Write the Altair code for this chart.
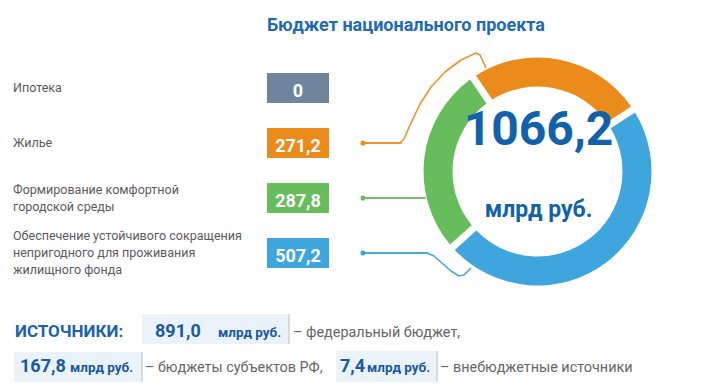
import altair as alt
import pandas as pd

# ---------------- data ----------------
categories = [
    "Ипотека",
    "Жилье",
    "Формирование комфортной\nгородской среды",
    "Обеспечение устойчивого сокращения\nнепригодного для проживания\nжилищного фонда",
]
values = [0.0, 271.2, 287.8, 507.2]
palette = ["#6F859E", "#EA8B1C", "#67BC5C", "#3EA6DC"]
line_palette = ["#6F859E", "#EC9232", "#72C167", "#45A9DE"]
ring_order = [0, 1, 3, 2]  # clockwise order in the ring (0 = not drawn)

title = "Бюджет национального проекта"
unit = "млрд руб."
sources_label = "ИСТОЧНИКИ:"
source_values = [891.0, 167.8, 7.4]
source_desc = ["– федеральный бюджет,", "– бюджеты субъектов РФ,", "– внебюджетные источники"]


def ru(v):
    return f"{v:.1f}".replace(".", ",") if v else "0"


total = sum(values)

# ---------------- layout ----------------
W, H = 723, 385
xs = alt.Scale(domain=[0, W], range=[0, W])
ys = alt.Scale(domain=[0, H], range=[0, H])


def X(f):
    return alt.X(f, type="quantitative", scale=xs, axis=None)


def Y(f):
    return alt.Y(f, type="quantitative", scale=ys, axis=None)


row_y = [88, 143, 198, 253]
LH = 17
cx, cy = 537.5, 171.5

rows = pd.DataFrame({
    "cat": categories,
    "value": values,
    "label": [ru(v) for v in values],
    "color": palette,
    "lcolor": line_palette,
    "ord": ring_order,
    "y": row_y,
    "ylab": [r - (c.count("\n")) * LH / 2 for r, c in zip(row_y, categories)],
    "y0": [r - 15 for r in row_y],
    "y1": [r + 15 for r in row_y],
    "yb": [r + 9 for r in row_y],
    "x0": [267] * 4,
    "x1": [329] * 4,
    "xc": [298] * 4,
    "xl": [13] * 4,
    "xd": [363] * 4,
    "xe": [0, 401, 425, 428],
})

labels = alt.Chart(rows).mark_text(
    align="left", baseline="middle", font="Roboto", fontSize=12.5, color="#5b5b5b",
    lineBreak="\n", lineHeight=LH
).encode(x=X("xl"), y=Y("ylab"), text="cat:N")

boxes = alt.Chart(rows).mark_rect().encode(
    x=X("x0"), x2=alt.X2("x1"), y=Y("y0"), y2=alt.Y2("y1"),
    color=alt.Color("color:N", scale=None)
)

box_text = alt.Chart(rows).mark_text(
    align="center", baseline="alphabetic", font="Roboto", fontSize=18,
    fontWeight="bold", color="white"
).encode(x=X("xc"), y=Y("yb"), text="label:N")

dots = alt.Chart(rows).transform_filter("datum.value > 0").mark_circle(size=26, opacity=1).encode(
    x=X("xd"), y=Y("y"), color=alt.Color("color:N", scale=None)
)

# horizontal leader segments
leaders = alt.Chart(rows).transform_filter("datum.value > 0").mark_rule(
    strokeWidth=1.8, strokeCap="round", opacity=1
).encode(
    x=X("xd"), x2=alt.X2("xe"), y=Y("y"), y2=alt.Y2("y"),
    color=alt.Color("lcolor:N", scale=None)
)

# connector curves (layout)
paths = {
    1: [(400, 143), (404, 139), (411, 123), (420, 104), (431, 87),
        (445, 72), (461, 60), (476, 53), (480, 55), (486, 68)],
    3: [(427, 253), (434, 256), (451, 271), (459, 276), (464, 275), (471, 268)],
}
conn_rows = []
for i, pts in paths.items():
    for k, (px, py) in enumerate(pts):
        conn_rows.append({"series": f"s{i}", "k": k, "px": px, "py": py, "c": line_palette[i]})
conn = pd.DataFrame(conn_rows)

connectors = alt.Chart(conn).mark_line(strokeWidth=1.6, interpolate="linear", strokeJoin="round").encode(
    x=X("px"), y=Y("py"), detail="series:N", order="k:Q",
    color=alt.Color("c:N", scale=None)
)

# ring
ring_df = rows[rows["value"] > 0].copy()
ring_df["cx"] = cx
ring_df["cy"] = cy
start = -0.602
ring = alt.Chart(ring_df).mark_arc(radius=114, radius2=85, padAngle=0.05).encode(
    x=X("cx"), y=Y("cy"),
    theta=alt.Theta("value:Q", stack=True, scale=alt.Scale(range=[start, start + 6.283185307])),
    order=alt.Order("ord:Q"),
    color=alt.Color("color:N", scale=None),
)

center = pd.DataFrame({
    "t": [ru(round(total, 1)), unit],
    "x": [cx + 1, cx + 1],
    "y": [145, 217],
    "s": [48, 23],
})
center_text = alt.Chart(center).mark_text(
    align="center", baseline="alphabetic", font="Roboto", fontWeight="bold", color="#1162A8"
).encode(x=X("x"), y=Y("y"), text="t:N", size=alt.Size("s:Q", scale=None))

title_df = pd.DataFrame({"t": [title], "x": [267], "y": [31]})
title_text = alt.Chart(title_df).mark_text(
    align="left", baseline="alphabetic", font="Roboto", fontWeight="bold",
    fontSize=18, color="#1F6BB3"
).encode(x=X("x"), y=Y("y"), text="t:N")

# sources block
src_boxes = pd.DataFrame({
    "x0": [142, 14, 336], "x1": [289, 142, 437],
    "y0": [314, 352, 351], "y1": [344, 382, 382],
})
sb = alt.Chart(src_boxes).mark_rect(color="#EAF2FA").encode(
    x=X("x0"), x2=alt.X2("x1"), y=Y("y0"), y2=alt.Y2("y1")
)
sb_edge = alt.Chart(src_boxes).mark_rule(color="#B8BEC6", strokeWidth=1).encode(
    x=X("x1"), y=Y("y0"), y2=alt.Y2("y1")
)

head = pd.DataFrame({"t": [sources_label], "x": [15], "y": [337]})
head_text = alt.Chart(head).mark_text(
    align="left", baseline="alphabetic", font="Roboto", fontWeight="bold",
    fontSize=17, color="#1A62AB"
).encode(x=X("x"), y=Y("y"), text="t:N")

num_df = pd.DataFrame({
    "t": [ru(v) for v in source_values],
    "x": [155, 20, 340], "y": [337, 372, 372],
})
num_text = alt.Chart(num_df).mark_text(
    align="left", baseline="alphabetic", font="Roboto", fontWeight="bold",
    fontSize=18, color="#1A5A9E"
).encode(x=X("x"), y=Y("y"), text="t:N")

unit_df = pd.DataFrame({"t": [unit] * 3, "x": [218, 70, 367], "y": [337, 372, 372]})
unit_text = alt.Chart(unit_df).mark_text(
    align="left", baseline="alphabetic", font="Roboto", fontWeight="bold",
    fontSize=13.5, color="#1A5A9E"
).encode(x=X("x"), y=Y("y"), text="t:N")

desc_df = pd.DataFrame({"t": source_desc, "x": [293, 145, 440], "y": [337, 372, 372]})
desc_text = alt.Chart(desc_df).mark_text(
    align="left", baseline="alphabetic", font="Roboto",
    fontSize=14.4, color="#666666"
).encode(x=X("x"), y=Y("y"), text="t:N")

chart = alt.layer(
    leaders, connectors, ring, dots, boxes, box_text, labels, center_text, title_text,
    sb, sb_edge, head_text, num_text, unit_text, desc_text
).properties(
    width=W, height=H, padding=0, autosize=alt.AutoSizeParams(type="none"),
    background="white"
).configure_view(stroke=None)

chart.save("out.html", embed_options={"renderer": "svg", "actions": False})
